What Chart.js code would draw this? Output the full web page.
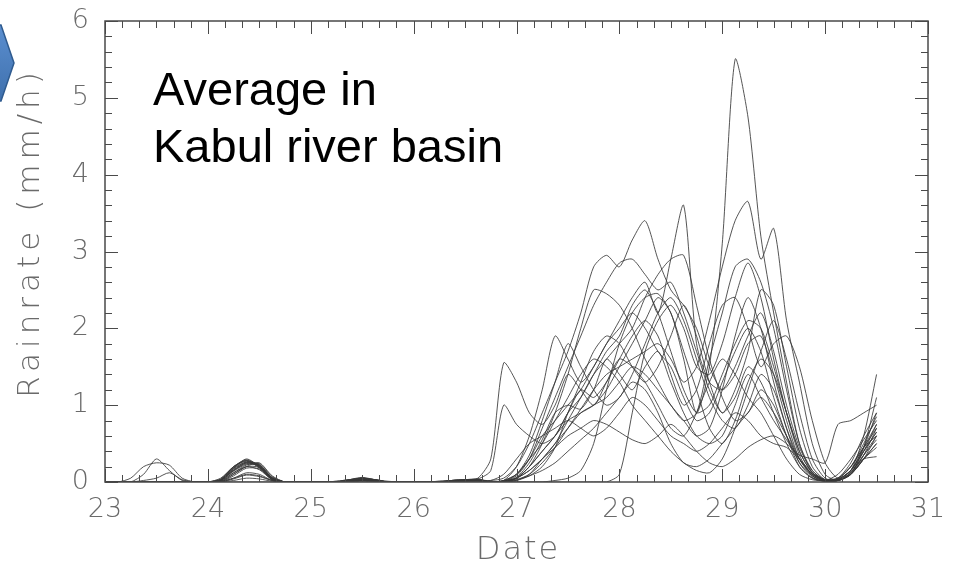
<!DOCTYPE html>
<html>
<head>
<meta charset="utf-8">
<script src="https://cdn.jsdelivr.net/npm/chart.js@4.4.1/dist/chart.umd.min.js"></script>
<style>
  html, body { margin: 0; padding: 0; background: #ffffff; }
  #wrap { width: 957px; height: 571px; position: relative; }
</style>
</head>
<body>
<div id="wrap"><canvas id="c" width="957" height="571"></canvas></div>
<script>
// ---- Data ----
const xTitle = 'Date';
const yTitle = 'Rainrate (mm/h)';
const noteLines = ['Average in', 'Kabul river basin'];
const xTickLabels = [23, 24, 25, 26, 27, 28, 29, 30, 31];
const yTickLabels = [0, 1, 2, 3, 4, 5, 6];

const days = [23, 23.125, 23.25, 23.375, 23.5, 23.625, 23.75, 23.875,
  24, 24.125, 24.25, 24.375, 24.5, 24.625, 24.75, 24.875,
  25, 25.125, 25.25, 25.375, 25.5, 25.625, 25.75, 25.875,
  26, 26.125, 26.25, 26.375, 26.5, 26.625, 26.75, 26.875,
  27, 27.125, 27.25, 27.375, 27.5, 27.625, 27.75, 27.875,
  28, 28.125, 28.25, 28.375, 28.5, 28.625, 28.75, 28.875,
  29, 29.125, 29.25, 29.375, 29.5, 29.625, 29.75, 29.875,
  30, 30.125, 30.25, 30.375, 30.5];

const m01 = [0,0,0.05,0.2,0.25,0.22,0.05,0, 0,0.03,0.15,0.25,0.22,0.05,0,0, 0,0,0.01,0.03,0.05,0.02,0,0, 0,0,0,0.02,0.03,0.05,
  0.3,1.55,1.3,0.9,0.75,1.0,1.4,1.2,1.0,1.3, 1.6,1.5,1.3,1.0,0.7,0.6,0.9,1.3,1.6,1.4, 1.1,0.9,0.6,0.3,0.1,0.03,0.02,0.1,0.3,0.55, 0.8];
const m02 = [0,0,0,0.1,0.3,0.15,0.02,0, 0,0.05,0.2,0.28,0.18,0.03,0,0, 0,0,0,0.02,0.04,0.03,0,0, 0,0,0.01,0.02,0.03,0.04,
  0.15,1.0,0.75,0.6,0.5,0.6,0.9,1.1,1.4,1.7, 1.9,2.3,2.5,2.2,1.7,1.2,0.9,1.0,1.4,1.8, 2.1,2.0,1.5,0.9,0.4,0.12,0.03,0.05,0.2,0.45, 0.7];
const m03 = [0,0,0,0.02,0.05,0.12,0.03,0, 0,0.02,0.18,0.3,0.2,0.03,0,0, 0,0,0,0.03,0.06,0.03,0.01,0, 0,0,0,0.01,0.02,0.02,
  0.02,0.05,0.2,0.5,0.9,1.3,1.7,2.2,2.8,2.95, 2.8,3.15,3.4,2.9,2.5,2.3,2.0,1.5,1.2,1.4, 1.8,1.9,1.4,0.8,0.3,0.08,0.01,0.02,0.12,0.35, 0.6];
const m04 = [0,0,0,0,0,0,0,0, 0,0.04,0.2,0.27,0.2,0.04,0,0, 0,0,0,0.02,0.05,0.02,0,0, 0,0,0,0.01,0.02,0.03,
  0,0.02,0.1,0.3,0.6,0.8,1.0,1.2,1.5,1.8, 2.1,2.4,2.6,2.2,2.9,3.6,1.8,1.3,1.2,1.5, 1.9,2.2,1.7,1.0,0.45,0.15,0.03,0.04,0.2,0.5, 0.85];
const m05 = [0,0,0,0,0,0,0,0, 0,0.02,0.15,0.24,0.22,0.06,0,0, 0,0,0.01,0.03,0.04,0.03,0,0, 0,0,0,0.02,0.03,0.03,
  0,0,0.05,0.2,0.4,0.6,0.8,0.9,1.0,1.2, 1.5,1.8,2.1,2.4,2.2,1.6,0.9,1.5,3.1,5.5, 4.75,3.2,2.2,1.3,0.5,0.12,0.02,0.03,0.15,0.45, 0.75];
const m06 = [0,0,0,0,0,0,0,0, 0,0,0.1,0.2,0.25,0.08,0,0, 0,0,0,0,0,0,0,0, 0,0,0,0.01,0.02,0.02,
  0,0.01,0.05,0.15,0.3,0.5,0.8,1.1,1.4,1.6, 1.8,2.0,2.4,2.7,2.9,2.95,2.3,1.6,1.1,0.8, 0.9,1.2,1.0,0.6,0.25,0.08,0.02,0.03,0.15,0.4, 0.65];
const m07 = [0,0,0,0,0,0,0,0, 0,0,0,0,0,0,0,0, 0,0,0,0.02,0.03,0.01,0,0, 0,0,0,0.01,0.01,0.02,
  0,0,0.03,0.1,0.25,0.45,0.7,0.95,1.2,1.4, 1.5,1.6,1.7,1.8,1.6,1.3,1.5,2.1,2.8,3.4, 3.65,2.9,3.3,2.1,1.3,0.5,0.1,0.02,0.1,0.35, 0.7];
const m08 = [0,0,0,0,0,0,0,0, 0,0.01,0.05,0.1,0.08,0.02,0,0, 0,0,0,0.01,0.03,0.01,0,0, 0,0,0,0,0,0,
  0,0.02,0.2,0.6,1.2,1.9,1.6,1.3,1.5,1.8, 2.0,2.2,2.0,1.7,1.5,1.1,0.8,0.9,1.3,1.7, 2.0,1.7,1.1,0.6,0.2,0.05,0.01,0.03,0.15,0.45, 0.9];
const m09 = [0,0,0,0,0,0,0,0, 0,0.03,0.18,0.26,0.22,0.05,0,0, 0,0,0,0.01,0.03,0.02,0,0, 0,0,0,0.01,0.02,0.02,
  0,0.01,0.1,0.35,0.8,1.3,1.8,1.5,1.2,1.0, 1.1,1.4,1.8,2.2,2.4,2.1,1.6,1.1,0.8,0.7, 1.0,1.4,1.2,0.7,0.3,0.1,0.02,0.02,0.12,0.35, 0.55];
const m10 = [0,0,0,0,0,0,0,0, 0,0,0.02,0.05,0.04,0.01,0,0, 0,0,0,0.02,0.04,0.02,0,0, 0,0,0,0.02,0.02,0.03,
  0,0,0.05,0.2,0.5,0.9,1.4,2.0,2.5,2.45, 2.3,2.0,1.6,1.3,1.0,0.8,0.6,0.7,1.2,1.9, 2.4,2.0,1.3,0.7,0.25,0.06,0.01,0.02,0.1,0.3, 0.45];
const m11 = [0,0,0,0,0,0,0,0, 0,0.02,0.16,0.25,0.2,0.04,0,0, 0,0,0,0.02,0.04,0.02,0,0, 0,0,0,0,0.01,0.01,
  0,0,0,0,0,0.02,0.05,0.15,0.5,1.2, 1.8,2.2,2.4,2.45,2.2,1.7,1.2,0.7,0.5,0.8, 1.3,1.6,1.4,0.9,0.4,0.12,0.02,0.02,0.1,0.3, 0.5];
const m12 = [0,0,0,0,0,0,0,0, 0,0.03,0.19,0.28,0.21,0.04,0,0, 0,0,0,0,0.02,0.01,0,0, 0,0,0,0,0,0,
  0,0,0,0,0,0,0,0,0,0, 0.1,0.9,1.7,2.1,2.3,2.0,1.5,1.4,1.8,2.4, 2.85,2.4,1.6,0.9,0.35,0.08,0.01,0.02,0.12,0.4, 0.75];
const m13 = [0,0,0,0,0,0,0,0, 0,0,0.05,0.12,0.1,0.02,0,0, 0,0,0,0.03,0.05,0.03,0,0, 0,0,0.01,0.02,0.03,0.03,
  0.02,0.1,0.3,0.5,0.6,0.7,0.8,0.7,0.6,0.7, 0.9,1.1,1.0,0.8,0.6,0.5,0.4,0.5,0.7,0.9, 0.8,0.6,0.5,0.45,0.3,0.12,0.03,0.05,0.2,0.45, 0.6];
const m14 = [0,0,0,0,0,0,0,0, 0,0.02,0.17,0.26,0.23,0.05,0,0, 0,0,0,0.01,0.02,0.01,0,0, 0,0,0,0.01,0.02,0.02,
  0,0.02,0.1,0.3,0.5,0.8,1.1,1.4,1.6,1.5, 1.3,1.0,0.8,0.6,0.4,0.25,0.15,0.12,0.3,0.7, 1.2,1.7,2.1,1.6,0.9,0.3,0.05,0.02,0.1,0.3, 0.5];
const m15 = [0,0,0,0,0,0,0,0, 0,0.01,0.12,0.22,0.24,0.07,0,0, 0,0,0,0.02,0.03,0.02,0,0, 0,0,0,0,0.01,0.02,
  0,0.01,0.08,0.3,0.7,1.1,1.5,1.9,2.3,2.6, 2.85,2.9,2.7,2.5,2.6,2.2,1.7,1.2,0.9,1.1, 1.5,1.3,0.9,0.5,0.2,0.05,0.01,0.03,0.15,0.4, 0.65];
const m16 = [0,0,0,0,0,0,0,0, 0,0,0.08,0.18,0.17,0.04,0,0, 0,0,0,0.01,0.03,0.01,0,0, 0,0,0,0.01,0.02,0.03,
  0,0.01,0.05,0.15,0.3,0.45,0.6,0.7,0.8,0.75, 0.65,0.55,0.5,0.6,0.75,0.6,0.4,0.25,0.2,0.3, 0.45,0.55,0.6,0.5,0.35,0.3,0.25,0.75,0.8,0.9, 1.0];
const m17 = [0,0,0,0,0,0,0,0, 0,0.03,0.2,0.29,0.19,0.03,0,0, 0,0,0,0.02,0.04,0.02,0,0, 0,0,0,0.01,0.01,0.02,
  0,0.01,0.05,0.2,0.4,0.6,0.9,1.2,1.1,1.3, 1.6,1.9,2.1,1.9,1.4,1.0,1.2,1.8,2.3,2.4, 2.0,1.5,1.8,1.9,1.5,0.8,0.25,0.05,0.15,0.6, 1.4];
const m18 = [0,0,0,0,0,0,0,0, 0,0.02,0.14,0.23,0.21,0.05,0,0, 0,0,0,0.02,0.05,0.03,0,0, 0,0,0,0.02,0.03,0.04,
  0,0,0.02,0.08,0.2,0.45,0.9,1.3,1.7,1.9, 1.8,1.5,1.3,1.5,1.9,2.3,1.9,1.3,0.9,1.2, 1.7,2.5,2.3,1.5,0.7,0.2,0.03,0.02,0.1,0.45, 1.1];
const m19 = [0,0,0,0,0,0,0,0, 0,0,0.04,0.09,0.07,0.02,0,0, 0,0,0,0,0.01,0,0,0, 0,0,0,0.01,0.02,0.02,
  0,0.01,0.06,0.25,0.55,0.9,1.0,0.95,1.2,1.6, 1.4,1.2,1.5,1.7,1.3,0.9,0.6,0.5,0.6,1.0, 1.4,1.1,0.8,0.55,0.3,0.1,0.02,0.03,0.15,0.3, 0.33];
const m20 = [0,0,0,0,0,0,0,0, 0,0.01,0.1,0.2,0.19,0.05,0,0, 0,0,0,0.01,0.02,0.01,0,0, 0,0,0,0,0.01,0.01,
  0,0,0.02,0.1,0.3,0.5,0.7,0.9,1.0,1.1, 1.3,1.5,1.4,1.2,1.0,0.8,0.9,1.6,2.2,2.8, 2.9,2.6,2.0,1.2,0.5,0.15,0.02,0.02,0.1,0.3, 0.6];
const m21 = [0,0,0,0,0,0,0,0, 0,0.02,0.12,0.2,0.16,0.03,0,0, 0,0,0,0.01,0.02,0.01,0,0, 0,0,0,0.01,0.02,0.02,
  0,0.01,0.03,0.08,0.15,0.25,0.4,0.55,0.7,0.9, 1.1,1.3,1.2,0.9,0.5,0.25,0.2,0.3,0.5,0.7, 0.9,1.1,0.9,0.6,0.3,0.1,0.02,0.05,0.25,0.6, 0.9];

const members = [m01, m02, m03, m04, m05, m06, m07, m08, m09, m10, m11,
  m12, m13, m14, m15, m16, m17, m18, m19, m20, m21];

// ---- Chart ----
const TEXT_GRAY = '#6a6a6a';
const FRAME = '#4a4a4a';

const decorations = {
  id: 'decorations',
  afterDatasetsDraw(chart) {
    const { ctx, chartArea: a, scales: { x, y } } = chart;
    ctx.save();
    ctx.strokeStyle = FRAME;
    ctx.lineWidth = 1;
    ctx.beginPath();
    // x ticks (major every day, minor every 4 h), on bottom and top, pointing inward
    for (let k = 0; k <= (xTickLabels.length - 1) * 6; k++) {
      const v = xTickLabels[0] + k / 6;
      const px = Math.round(x.getPixelForValue(v)) + 0.5;
      const L = (k % 6 === 0) ? 13 : 7;
      ctx.moveTo(px, a.bottom); ctx.lineTo(px, a.bottom - L);
      ctx.moveTo(px, a.top); ctx.lineTo(px, a.top + L);
    }
    // y ticks (major every 1, minor every 0.2), on left and right
    for (let k = 0; k <= (yTickLabels.length - 1) * 5; k++) {
      const v = yTickLabels[0] + k / 5;
      const py = Math.round(y.getPixelForValue(v)) + 0.5;
      const L = (k % 5 === 0) ? 13 : 7;
      ctx.moveTo(a.left, py); ctx.lineTo(a.left + L, py);
      ctx.moveTo(a.right, py); ctx.lineTo(a.right - L, py);
    }
    ctx.stroke();
    ctx.lineWidth = 1.5;
    ctx.strokeRect(a.left, a.top, a.right - a.left, a.bottom - a.top);

    // annotation text
    ctx.fillStyle = '#000000';
    ctx.font = '47px "Liberation Sans", Arial, sans-serif';
    ctx.textAlign = 'left';
    ctx.textBaseline = 'alphabetic';
    ctx.fillText(noteLines[0], 153, 105);
    ctx.fillText(noteLines[1], 153, 162);
    ctx.restore();
  },
  afterDraw(chart) {
    const { ctx } = chart;
    ctx.save();
    // blue arrow shape at the left edge
    ctx.beginPath();
    ctx.moveTo(-4, 25);
    ctx.lineTo(1, 25);
    ctx.lineTo(14, 63);
    ctx.lineTo(1, 101);
    ctx.lineTo(-4, 101);
    ctx.closePath();
    const g = ctx.createLinearGradient(0, 25, 0, 101);
    g.addColorStop(0, '#5b8fd0');
    g.addColorStop(1, '#3f70ad');
    ctx.fillStyle = g;
    ctx.fill();
    ctx.strokeStyle = '#2f5b8f';
    ctx.lineWidth = 1.5;
    ctx.stroke();

    // axis titles
    ctx.fillStyle = TEXT_GRAY;
    ctx.textAlign = 'center';
    ctx.textBaseline = 'middle';
    ctx.font = '200 31px "DejaVu Sans", sans-serif';
    ctx.letterSpacing = '0px';
    const w0 = ctx.measureText(yTitle).width;
    const sp = Math.max(0, (330 - w0) / yTitle.length);
    ctx.letterSpacing = sp.toFixed(1) + 'px';
    ctx.translate(31, 230 + sp / 2);
    ctx.rotate(-Math.PI / 2);
    ctx.fillText(yTitle, 0, 0);
    ctx.setTransform(1, 0, 0, 1, 0, 0);
    ctx.font = '200 32px "DejaVu Sans", sans-serif';
    ctx.letterSpacing = '2px';
    ctx.fillText(xTitle, 517 + 1, 551);
    ctx.restore();
  }
};

const datasets = members.map((vals, k) => ({
  label: 'Member ' + (k + 1),
  data: vals.map((v, i) => ({ x: days[i], y: v })),
  borderColor: 'rgba(55,55,55,0.85)',
  borderWidth: 1,
  pointRadius: 0,
  tension: 0.25,
  fill: false
}));

new Chart(document.getElementById('c'), {
  type: 'line',
  data: { datasets },
  plugins: [decorations],
  options: {
    responsive: false,
    animation: false,
    devicePixelRatio: 1,
    layout: { padding: { left: 0, top: 21, right: 29, bottom: 0 } },
    plugins: { legend: { display: false }, tooltip: { enabled: false }, title: { display: false } },
    scales: {
      x: {
        type: 'linear',
        min: 23, max: 31,
        afterFit(s) { s.height = 89; s.paddingLeft = 0; s.paddingRight = 0; },
        afterBuildTicks(s) { s.ticks = xTickLabels.map(v => ({ value: v })); },
        grid: { display: false, drawTicks: false },
        border: { display: false },
        ticks: {
          color: TEXT_GRAY,
          font: { family: '"DejaVu Sans", sans-serif', size: 27, weight: 200 },
          padding: 12,
          maxRotation: 0,
          autoSkip: false,
          callback: v => String(v)
        }
      },
      y: {
        type: 'linear',
        min: 0, max: 6,
        afterFit(s) { s.width = 105; s.paddingTop = 0; s.paddingBottom = 0; },
        afterBuildTicks(s) { s.ticks = yTickLabels.map(v => ({ value: v })); },
        grid: { display: false, drawTicks: false },
        border: { display: false },
        ticks: {
          color: TEXT_GRAY,
          font: { family: '"DejaVu Sans", sans-serif', size: 27, weight: 200 },
          padding: 16,
          autoSkip: false,
          callback: v => String(v)
        }
      }
    }
  }
});
</script>
</body>
</html>
